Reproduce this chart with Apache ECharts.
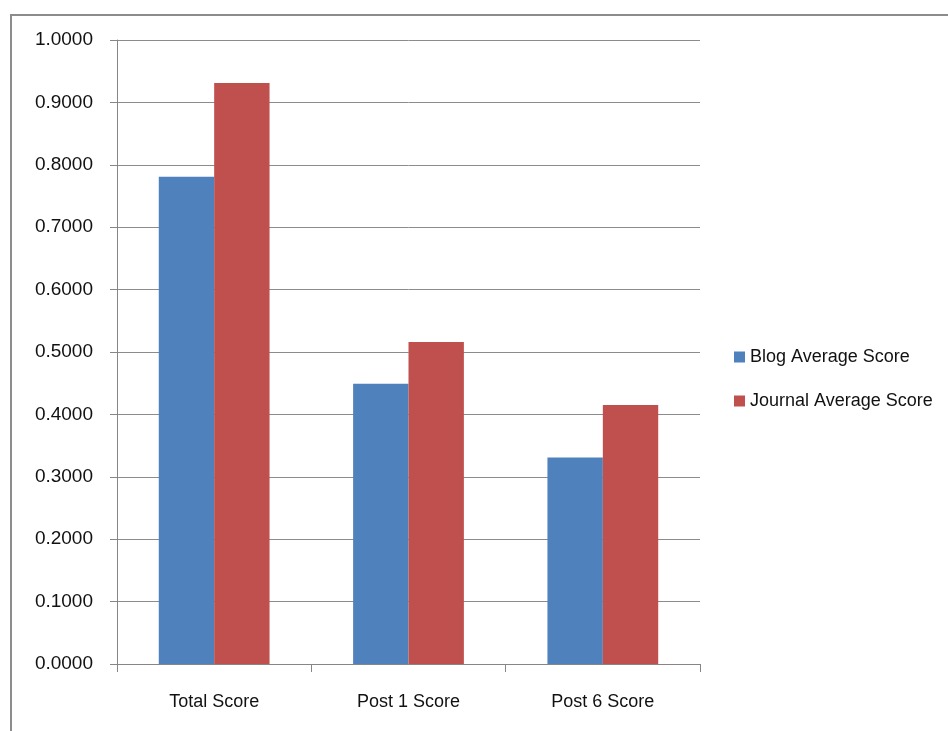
<!DOCTYPE html>
<html>
<head>
<meta charset="utf-8">
<script src="https://cdn.jsdelivr.net/npm/echarts@6/dist/echarts.min.js"></script>
<style>html,body{margin:0;padding:0;background:#fff;}#c{width:948px;height:731px;}</style>
</head>
<body>
<div id="c"></div>
<script>
const categories = ['Total Score', 'Post 1 Score', 'Post 6 Score'];
const blogScores = [0.781, 0.449, 0.331];
const journalScores = [0.931, 0.516, 0.415];
const seriesNames = ['Blog Average Score', 'Journal Average Score'];

const FONT = 'Liberation Sans';
const chart = echarts.init(document.getElementById('c'));
chart.setOption({
  animation: false,
  backgroundColor: '#fff',
  graphic: [{
    type: 'rect', silent: true,
    shape: { x: 11, y: 15, width: 1200, height: 1200 },
    style: { fill: 'none', stroke: '#8c8c8c', lineWidth: 2 }
  }],
  grid: { left: 117, right: 248, top: 40, bottom: 67, containLabel: false },
  legend: {
    orient: 'vertical', left: 729, top: 342,
    itemWidth: 11, itemHeight: 11, itemGap: 24,
    icon: 'rect',
    textStyle: { fontFamily: FONT, fontSize: 18, color: '#111', lineHeight: 20 },
    data: seriesNames
  },
  xAxis: {
    type: 'category', data: categories,
    axisLine: { lineStyle: { color: '#868686', width: 1 } },
    axisTick: { show: true, length: 8, alignWithLabel: false, lineStyle: { color: '#868686' } },
    axisLabel: { margin: 29, fontFamily: FONT, fontSize: 18, color: '#111' }
  },
  yAxis: {
    type: 'value', min: 0, max: 1, interval: 0.1,
    axisLine: { show: true, lineStyle: { color: '#868686', width: 1 } },
    axisTick: { show: true, length: 7, lineStyle: { color: '#868686' } },
    splitLine: { lineStyle: { color: '#8c8c8c', width: 1 } },
    axisLabel: { margin: 24, fontFamily: FONT, fontSize: 19, color: '#111',
      formatter: v => v.toFixed(4) }
  },
  series: [
    { name: seriesNames[0], type: 'bar', data: blogScores, barGap: '0%', barCategoryGap: '43%',
      itemStyle: { color: '#4F81BD' } },
    { name: seriesNames[1], type: 'bar', data: journalScores, barGap: '0%', barCategoryGap: '43%',
      itemStyle: { color: '#C0504D' } }
  ]
});
</script>
</body>
</html>
